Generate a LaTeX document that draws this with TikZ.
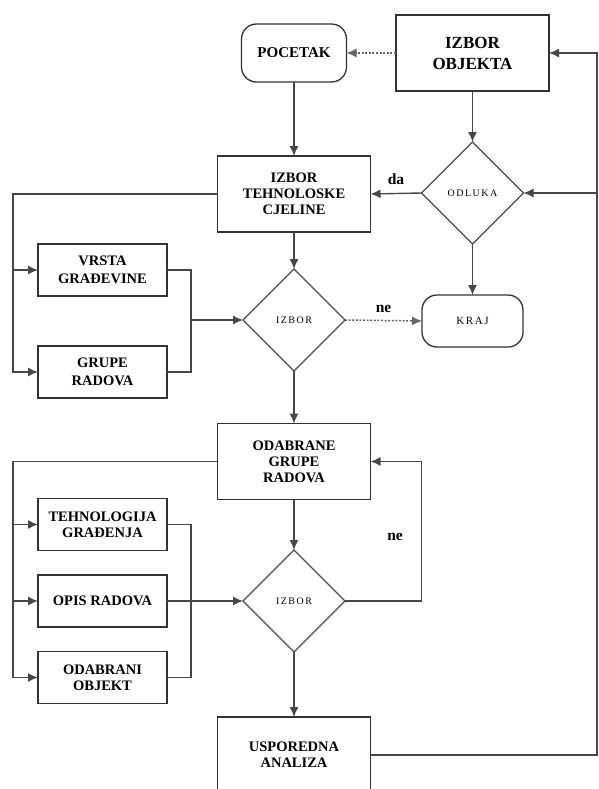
\documentclass[tikz,border=0pt]{standalone}
\usepackage{fontspec}
\setmainfont{Liberation Serif}
\newfontfamily\lsfont[LetterSpace=15]{Liberation Serif}
\usetikzlibrary{arrows.meta,shapes.geometric}
\begin{document}
\begin{tikzpicture}[x=1pt,y=-1pt,
  ln/.style={draw=black!72, line width=1.4pt},
  tip/.style={-{Latex[length=10pt,width=9pt]}},
  ar/.style={ln, tip},
  dotline/.style={draw=black!60, line width=1.5pt, dash pattern=on 2pt off 1.6pt, tip},
  box/.style={draw=black!80, line width=1.4pt, rectangle, minimum width=153pt, minimum height=76pt,
    align=center, inner sep=0pt, outer sep=0pt, font=\bfseries\fontsize{14.5}{16}\selectfont},
  sbox/.style={box, minimum width=129pt, minimum height=52pt},
  term/.style={draw=black!80, line width=1.3pt, rectangle, rounded corners=15pt, align=center,
    inner sep=0pt, outer sep=0pt},
  dia/.style={draw=black!70, line width=1.2pt, diamond, inner sep=0pt, outer sep=0pt,
    minimum width=102pt, minimum height=102pt, font=\lsfont\fontsize{10}{11}\selectfont},
  lbl/.style={font=\bfseries\fontsize{15.5}{16}\selectfont, inner sep=0pt}
  ]
\useasboundingbox (0,0) rectangle (598,789);
\clip (0,0) rectangle (598,789);
\fill[white] (0,0) rectangle (598,789);

% nodes
\node[term, minimum width=105pt, minimum height=58pt, font=\bfseries\fontsize{15}{17}\selectfont] (poc) at (294,53) {POCETAK};
\node[box, font=\bfseries\fontsize{17}{21}\selectfont] (obj) at (472.5,53) {IZBOR\\OBJEKTA};
\node[dia] (odl) at (472.5,193) {ODLUKA};
\node[box] (tehn) at (294,194) {IZBOR\\TEHNOLOSKE\\CJELINE};
\node[sbox, font=\bfseries\fontsize{14.5}{18}\selectfont] (vrsta) at (102.5,270) {VRSTA\\GRAĐEVINE};
\node[sbox, font=\bfseries\fontsize{14.5}{18}\selectfont] (grupe) at (102.5,372) {GRUPE\\RADOVA};
\node[dia] (izb1) at (294,320) {IZBOR};
\node[term, minimum width=101pt, minimum height=52pt, font=\lsfont\fontsize{11}{12}\selectfont] (kraj) at (472.5,321) {KRAJ};
\node[box] (odab) at (294,461.5) {ODABRANE\\GRUPE\\RADOVA};
\node[sbox] (tgr) at (102.5,524.5) {TEHNOLOGIJA\\GRAĐENJA};
\node[sbox] (opis) at (102.5,601) {OPIS RADOVA};
\node[sbox] (odobj) at (102.5,677.5) {ODABRANI\\OBJEKT};
\node[dia] (izb2) at (294,601) {IZBOR};
\node[box] (usp) at (294,755) {USPOREDNA\\ANALIZA};

% helper coordinates
\coordinate (lx) at (13,0);
\coordinate (rx) at (191,0);
\coordinate (lp) at (421.7,0);
\coordinate (ex) at (597,0);

% connectors
\draw[dotline] (obj.west) -- (poc.east);
\draw[ar] (poc) -- (tehn);
\draw[ar] (obj) -- (odl);
\draw[ar] (odl.west) -- node[lbl, above=8pt] {da} (tehn.east);
\draw[ar] (odl) -- (kraj);

\draw[ar] (tehn.west) -| (lx |- grupe.west) -- (grupe.west);
\draw[ar] (lx |- vrsta.west) -- (vrsta.west);
\draw[ln] (vrsta.east) -| (rx |- grupe.east) -- (grupe.east);
\draw[ar] (rx |- izb1.west) -- (izb1.west);
\draw[ar] (tehn) -- (izb1);
\draw[dotline] (izb1.east) -- node[lbl, above=7pt] {ne} (kraj.west);
\draw[ar] (izb1) -- (odab);

\draw[ar] (odab.west) -| (lx |- odobj.west) -- (odobj.west);
\draw[ar] (lx |- tgr.west) -- (tgr.west);
\draw[ar] (lx |- opis.west) -- (opis.west);
\draw[ln] (tgr.east) -| (rx |- odobj.east) -- (odobj.east);
\draw[ar] (opis.east) -- (izb2.west);
\draw[ar] (odab) -- (izb2);
\draw[ar] (izb2.east) -| (lp |- odab.east) -- (odab.east);
\node[lbl] (ne2) at (395,537) {ne};
\draw[ar] (izb2) -- (usp);

\draw[ar] (usp.east) -| (ex |- obj.east) -- (obj.east);
\draw[ar] (ex |- odl.east) -- (odl.east);
\end{tikzpicture}
\end{document}
